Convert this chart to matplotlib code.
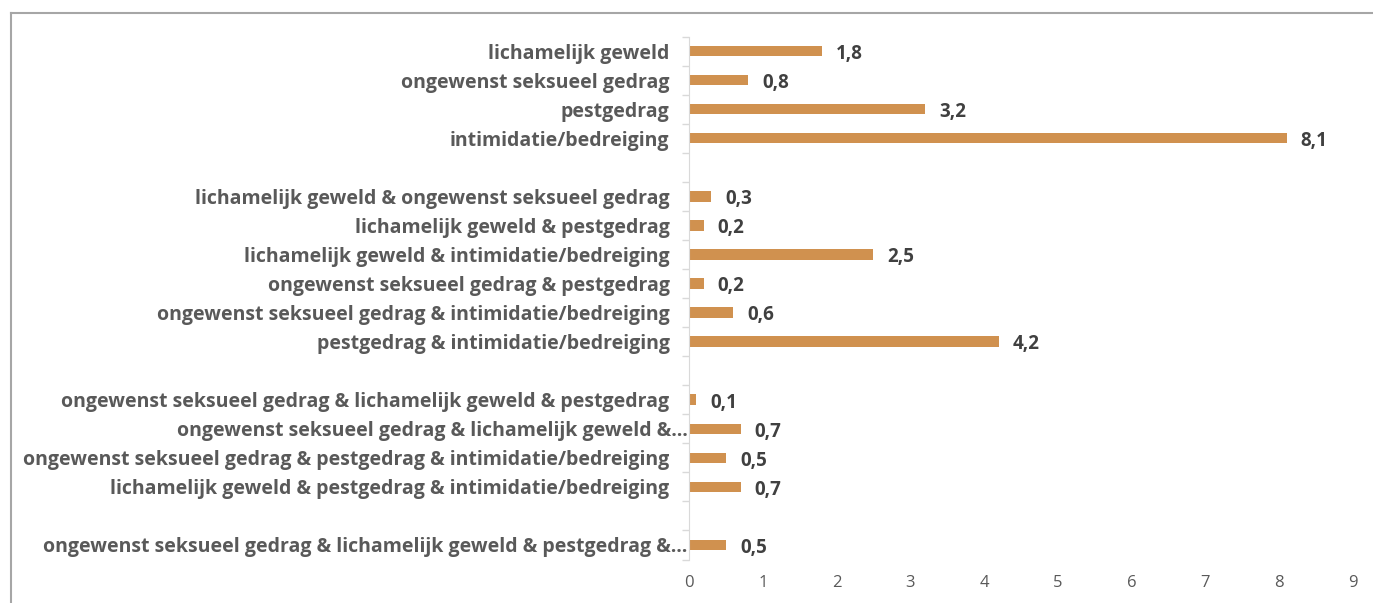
import matplotlib.pyplot as plt
from matplotlib.lines import Line2D
from matplotlib.transforms import ScaledTranslation

plt.rcParams['font.family'] = ['Open Sans', 'DejaVu Sans']

# categories top to bottom, '' marks an empty spacer row
labels = [
    'lichamelijk geweld',
    'ongewenst seksueel gedrag',
    'pestgedrag',
    'intimidatie/bedreiging',
    '',
    'lichamelijk geweld & ongewenst seksueel gedrag',
    'lichamelijk geweld & pestgedrag',
    'lichamelijk geweld & intimidatie/bedreiging',
    'ongewenst seksueel gedrag & pestgedrag',
    'ongewenst seksueel gedrag & intimidatie/bedreiging',
    'pestgedrag & intimidatie/bedreiging',
    '',
    'ongewenst seksueel gedrag & lichamelijk geweld & pestgedrag',
    'ongewenst seksueel gedrag & lichamelijk geweld &\u2026',
    'ongewenst seksueel gedrag & pestgedrag & intimidatie/bedreiging',
    'lichamelijk geweld & pestgedrag & intimidatie/bedreiging',
    '',
    'ongewenst seksueel gedrag & lichamelijk geweld & pestgedrag &\u2026',
]
values = [1.8, 0.8, 3.2, 8.1, None,
          0.3, 0.2, 2.5, 0.2, 0.6, 4.2, None,
          0.1, 0.7, 0.5, 0.7, None,
          0.5]
x_ticks = list(range(0, 10))

fig = plt.figure(figsize=(13.73, 6.03), dpi=100)
ax = fig.add_axes([689 / 1373, 1 - 559.5 / 603, (1353 - 689) / 1373, (559.5 - 36.5) / 603])

n = len(labels)
ypos = list(range(n))
for y, v in zip(ypos, values):
    if v is None:
        continue
    ax.barh(y, v, height=0.36, color='#D0914F')
    ax.text(v + 0.19, y + 0.1, f'{v:.1f}'.replace('.', ','), va='center', ha='left',
            fontsize=13.5, fontweight='bold', color='#404040')

ax.set_ylim(n - 0.5, -0.5)
ax.set_xlim(0, 9)
ax.set_yticks(ypos)
ax.set_yticklabels(labels, fontsize=14, fontweight='bold', color='#595959')
ax.tick_params(axis='y', length=0, pad=14)
# truncated labels run closer to the axis
for t in ax.get_yticklabels():
    if t.get_text().endswith('\u2026'):
        t.set_transform(t.get_transform() + ScaledTranslation(0.18, 0, fig.dpi_scale_trans))
# small tick marks between rows
ax.set_yticks([y - 0.5 for y in range(n + 1)], minor=True)
ax.tick_params(axis='y', which='minor', length=5, color='#d9d9d9', width=1)
ax.set_xticks(x_ticks)
ax.tick_params(axis='x', length=0, labelsize=12, labelcolor='#595959', pad=11)

for s in ['top', 'right', 'bottom']:
    ax.spines[s].set_visible(False)
ax.spines['left'].set_color('#d9d9d9')

# outer frame (cut off at right and bottom)
fig.add_artist(Line2D([11 / 1373, 1], [1 - 13 / 603] * 2, color='#a6a6a6', lw=1.5))
fig.add_artist(Line2D([11 / 1373] * 2, [0, 1 - 13 / 603], color='#a6a6a6', lw=1.5))

fig.savefig('out.png', dpi=100)
